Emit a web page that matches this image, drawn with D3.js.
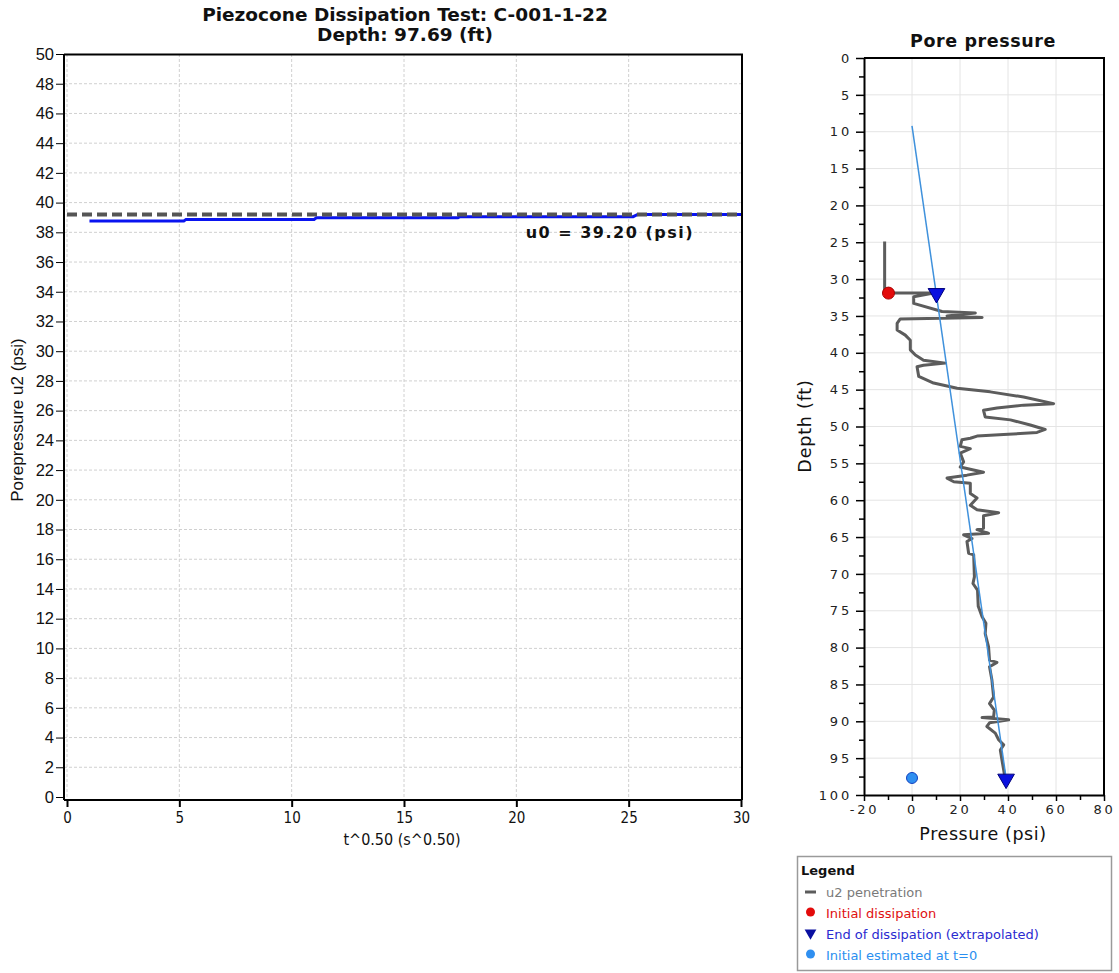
<!DOCTYPE html>
<html><head><meta charset="utf-8">
<script src="https://cdn.jsdelivr.net/npm/d3@7"></script>
<style>
body{margin:0;background:#fff;}
svg{display:block;}
</style></head>
<body>
<svg id="c" width="1119" height="973"></svg>
<script>
// ---------- DATA ----------
const titleLines = ["Piezocone Dissipation Test: C-001-1-22", "Depth: 97.69 (ft)"];
const u0Value = 39.20;
const u0Label = "u0 = 39.20 (psi)";
// dissipation curve (t^0.5, u2)
const dissT = [1.0, 5.2, 5.3, 11.0, 11.1, 17.4, 17.5, 25.2, 25.4, 30.0];
const dissU = [38.76, 38.76, 38.87, 38.87, 38.98, 38.98, 39.05, 39.05, 39.2, 39.2];
const leftYTicks = d3.range(0, 51, 2);
const leftXTicks = [0, 5, 10, 15, 20, 25, 30];

// pore pressure profile (pressure psi, depth ft)
const profileP = [-11.4,-11.4,9.0,0.7,0.7,12.5,26.4,14.6,29.2,-4.9,-6.2,-6.2,-2.8,-0.7,-0.7,1.4,4.8,13.9,4.8,2.1,2.8,9.0,18.8,32.6,46.5,59.0,46.5,35.4,29.8,30.5,41.0,49.3,55.5,52.1,38.2,27.1,24.3,20.8,20.1,24.3,20.1,21.5,20.1,29.8,22.9,14.6,17.4,24.3,24.3,27.1,24.3,27.1,36.1,29.8,29.8,27.1,31.9,21.5,25.0,22.9,23.6,25.7,26.0,25.4,27.3,27.6,29.2,30.8,30.5,31.9,32.3,35.4,32.3,33.3,34.0,32.3,34.3,34.0,29.2,40.3,32.3,31.2,34.7,36.1,38.2,36.8,37.5,38.2,38.6];
const profileD = [24.9,31.9,31.9,32.4,33.3,34.4,34.6,35.0,35.2,35.4,36.0,36.9,37.6,38.3,39.6,40.3,41.0,41.4,41.7,41.9,43.2,44.1,44.8,45.3,46.0,46.9,47.1,47.5,47.8,48.7,49.1,49.8,50.4,50.8,51.1,51.3,51.6,51.8,52.7,53.0,53.6,54.8,55.5,56.2,56.6,57.0,57.5,57.7,59.1,59.7,60.7,61.3,61.7,62.1,63.8,64.0,64.5,64.7,65.2,65.6,67.2,67.4,70.4,71.3,72.2,74.4,75.8,76.7,78.1,79.9,81.7,82.0,82.6,84.4,86.7,87.6,88.5,89.4,89.5,89.8,90.2,90.7,91.6,92.5,93.2,93.9,95.3,96.6,97.4];
const hydroP = [0, 39.2];
const hydroD = [9.2, 97.69];
const initialDiss = {p: -9.8, d: 31.9};
const endDiss = [{p: 10.2, d: 31.8}, {p: 39.2, d: 97.69}];
const initialT0 = {p: 0, d: 97.69};
const rightYTicks = d3.range(0, 101, 5);
const rightYMinor = d3.range(2.5, 100, 5);
const rightXTicks = d3.range(-20, 81, 20);
const rightXMinor = d3.range(-10, 80, 20);
const legendItems = ["u2 penetration", "Initial dissipation", "End of dissipation (extrapolated)", "Initial estimated at t=0"];

// ---------- DRAW ----------
const svg = d3.select("#c");
const sans = "'Liberation Sans', Arial, sans-serif";
const verd = "'DejaVu Sans', Verdana, sans-serif";
const cond = "'DejaVu Sans Condensed', 'DejaVu Sans', sans-serif";
const plain = d => String(d);

// ===== LEFT CHART =====
const lx = d3.scaleLinear().domain([0, 30]).range([67, 741]);
const ly = d3.scaleLinear().domain([0, 50]).range([797, 54]);
const L = svg.append("g");

// grid
L.append("g").selectAll("line").data(leftYTicks.filter(d => d > 0 && d < 50)).join("line")
  .attr("x1", 64).attr("x2", 742).attr("y1", d => ly(d)).attr("y2", d => ly(d))
  .attr("stroke", "#d0d0d0").attr("stroke-dasharray", "3,2").attr("stroke-width", 1);
L.append("g").selectAll("line").data(leftXTicks.filter(d => d < 30)).join("line")
  .attr("x1", d => lx(d)).attr("x2", d => lx(d)).attr("y1", 54).attr("y2", 800)
  .attr("stroke", "#d0d0d0").attr("stroke-dasharray", "3,2").attr("stroke-width", 1);

// frame
L.append("path").attr("d", "M64,54.5H742V800").attr("fill", "none").attr("stroke", "#000").attr("stroke-width", 2);

// axes
const yAx = L.append("g").attr("transform", "translate(64,0)")
  .call(d3.axisLeft(ly).tickValues(leftYTicks).tickFormat(plain).tickSize(8).tickSizeOuter(0).tickPadding(2));
yAx.select(".domain").attr("stroke-width", 2).attr("d", "M0,54V800");
yAx.selectAll("text").attr("font-family", sans).attr("font-size", 16.5).attr("fill", "#111");
const xAx = L.append("g").attr("transform", "translate(0,800)")
  .call(d3.axisBottom(lx).tickValues(leftXTicks).tickFormat(plain).tickSize(7).tickSizeOuter(0).tickPadding(5));
xAx.select(".domain").attr("stroke-width", 2).attr("d", "M64,0H742");
xAx.selectAll(".tick line").attr("stroke-width", 2);
xAx.selectAll("text").attr("font-family", cond).attr("font-size", 15).attr("fill", "#111");

// dissipation line
const dline = d3.line().x(d => lx(d[0])).y(d => ly(d[1]));
L.append("path").datum(dissT.map((t, i) => [t, dissU[i]]))
  .attr("d", dline).attr("fill", "none").attr("stroke", "#0a14f0").attr("stroke-width", 3);
// u0 dashed
L.append("line").attr("x1", lx(0)).attr("x2", lx(30)).attr("y1", ly(u0Value)).attr("y2", ly(u0Value))
  .attr("stroke", "#555").attr("stroke-width", 4).attr("stroke-dasharray", "10,5");
L.append("text").attr("x", 694).attr("y", ly(u0Value) + 24).attr("text-anchor", "end")
  .attr("font-family", verd).attr("font-weight", "bold").attr("font-size", 16).attr("letter-spacing", 1.5)
  .attr("fill", "#111").text(u0Label);

// titles
L.append("text").attr("x", 405).attr("y", 21).attr("text-anchor", "middle")
  .attr("font-family", verd).attr("font-weight", "bold").attr("font-size", 18.5).attr("fill", "#111").text(titleLines[0]);
L.append("text").attr("x", 405).attr("y", 41).attr("text-anchor", "middle")
  .attr("font-family", verd).attr("font-weight", "bold").attr("font-size", 18.5).attr("fill", "#111").text(titleLines[1]);
L.append("text").attr("transform", "translate(23,420) rotate(-90)").attr("text-anchor", "middle")
  .attr("font-family", sans).attr("font-size", 17).attr("fill", "#111").text("Porepressure u2 (psi)");
L.append("text").attr("x", 402).attr("y", 845).attr("text-anchor", "middle")
  .attr("font-family", cond).attr("font-size", 16).attr("fill", "#111").text("t^0.50 (s^0.50)");

// ===== RIGHT CHART =====
const rx = d3.scaleLinear().domain([-20, 80]).range([864, 1104]);
const ry = d3.scaleLinear().domain([0, 100]).range([58, 795]);
const R = svg.append("g");

R.append("g").selectAll("line").data(rightYTicks.filter(d => d > 0 && d < 100)).join("line")
  .attr("x1", 864).attr("x2", 1104).attr("y1", d => ry(d)).attr("y2", d => ry(d))
  .attr("stroke", "#e4e4e4").attr("stroke-width", 1);
R.append("g").selectAll("line").data(rightXTicks.filter(d => d > -20 && d < 80)).join("line")
  .attr("x1", d => rx(d)).attr("x2", d => rx(d)).attr("y1", 58).attr("y2", 795)
  .attr("stroke", "#e4e4e4").attr("stroke-width", 1);
R.append("path").attr("d", "M864,58H1104V795").attr("fill", "none").attr("stroke", "#000").attr("stroke-width", 2);

const ryAx = R.append("g").attr("transform", "translate(864,0)")
  .call(d3.axisLeft(ry).tickValues(rightYTicks).tickFormat(plain).tickSize(8).tickSizeOuter(0).tickPadding(4));
ryAx.select(".domain").attr("stroke-width", 2);
ryAx.selectAll(".tick line").attr("stroke-width", 1.5);
ryAx.selectAll("text").attr("font-family", verd).attr("font-size", 13).attr("letter-spacing", 2.8).attr("fill", "#222");
R.append("g").attr("transform", "translate(864,0)")
  .call(d3.axisLeft(ry).tickValues(rightYMinor).tickSize(5).tickFormat("")).call(g => g.select(".domain").remove())
  .selectAll("line").attr("stroke-width", 1.5);
const rxAx = R.append("g").attr("transform", "translate(0,795)")
  .call(d3.axisBottom(rx).tickValues(rightXTicks).tickFormat(plain).tickSize(6).tickSizeOuter(0).tickPadding(4));
rxAx.select(".domain").attr("stroke-width", 2);
rxAx.selectAll(".tick line").attr("stroke-width", 1.5);
rxAx.selectAll("text").attr("font-family", verd).attr("font-size", 13).attr("letter-spacing", 2.8).attr("fill", "#222");
R.append("g").attr("transform", "translate(0,795)")
  .call(d3.axisBottom(rx).tickValues(rightXMinor).tickSize(5).tickFormat("")).call(g => g.select(".domain").remove())
  .selectAll("line").attr("stroke-width", 1.5);

// profile
const pline = d3.line().x(d => rx(d[0])).y(d => ry(d[1]));
R.append("path").datum(profileP.map((p, i) => [p, profileD[i]]))
  .attr("d", pline).attr("fill", "none").attr("stroke", "#5c5c5c").attr("stroke-width", 3)
  .attr("stroke-linejoin", "round");
R.append("path").datum(hydroP.map((p, i) => [p, hydroD[i]]))
  .attr("d", pline).attr("fill", "none").attr("stroke", "#3f91dc").attr("stroke-width", 1.5);

// markers
R.append("circle").attr("cx", rx(initialDiss.p)).attr("cy", ry(initialDiss.d)).attr("r", 6)
  .attr("fill", "#e30b0b").attr("stroke", "#a00").attr("stroke-width", 1);
const tri = d3.symbol().type(d3.symbolTriangle).size(120);
R.selectAll("path.tri").data(endDiss).join("path").attr("class", "tri")
  .attr("d", tri).attr("transform", d => `translate(${rx(d.p)},${ry(d.d) + 1}) rotate(180)`)
  .attr("fill", "#0a10e0").attr("stroke", "#00007a").attr("stroke-width", 1);
R.append("circle").attr("cx", rx(initialT0.p)).attr("cy", ry(initialT0.d)).attr("r", 5.5)
  .attr("fill", "#2f8ff0").attr("stroke", "#1040c0").attr("stroke-width", 1);

R.append("text").attr("x", 983).attr("y", 47).attr("text-anchor", "middle")
  .attr("font-family", verd).attr("font-weight", "bold").attr("font-size", 17.5).attr("letter-spacing", 0.6).attr("fill", "#111").text("Pore pressure");
R.append("text").attr("transform", "translate(811,426) rotate(-90)").attr("text-anchor", "middle")
  .attr("font-family", verd).attr("font-size", 17.5).attr("letter-spacing", 0.8).attr("fill", "#111").text("Depth (ft)");
R.append("text").attr("x", 983).attr("y", 840).attr("text-anchor", "middle")
  .attr("font-family", verd).attr("font-size", 17.5).attr("letter-spacing", 0.6).attr("fill", "#111").text("Pressure (psi)");

// legend
const G = svg.append("g");
G.append("rect").attr("x", 797.5).attr("y", 856.5).attr("width", 314).attr("height", 114)
  .attr("fill", "#fff").attr("stroke", "#9a9a9a").attr("stroke-width", 1.5);
G.append("text").attr("x", 801).attr("y", 875).attr("font-family", verd).attr("font-weight", "bold")
  .attr("font-size", 13).attr("fill", "#111").text("Legend");
const legColors = ["#7a7a7a", "#e01010", "#2a2ad0", "#2a8ff0"];
legendItems.forEach((t, i) => {
  const y = 892 + i * 21;
  G.append("text").attr("x", 826).attr("y", y + 4.5).attr("font-family", verd).attr("font-size", 13)
    .attr("fill", legColors[i]).text(t);
});
G.append("line").attr("x1", 805).attr("x2", 816).attr("y1", 892).attr("y2", 892).attr("stroke", "#5c5c5c").attr("stroke-width", 3);
G.append("circle").attr("cx", 810.5).attr("cy", 912).attr("r", 4.5).attr("fill", "#e30b0b");
G.append("path").attr("d", d3.symbol().type(d3.symbolTriangle).size(60)).attr("transform", "translate(810.5,933) rotate(180)").attr("fill", "#0a10a0");
G.append("circle").attr("cx", 810.5).attr("cy", 954).attr("r", 4.5).attr("fill", "#2f8ff0");
</script>
</body></html>
